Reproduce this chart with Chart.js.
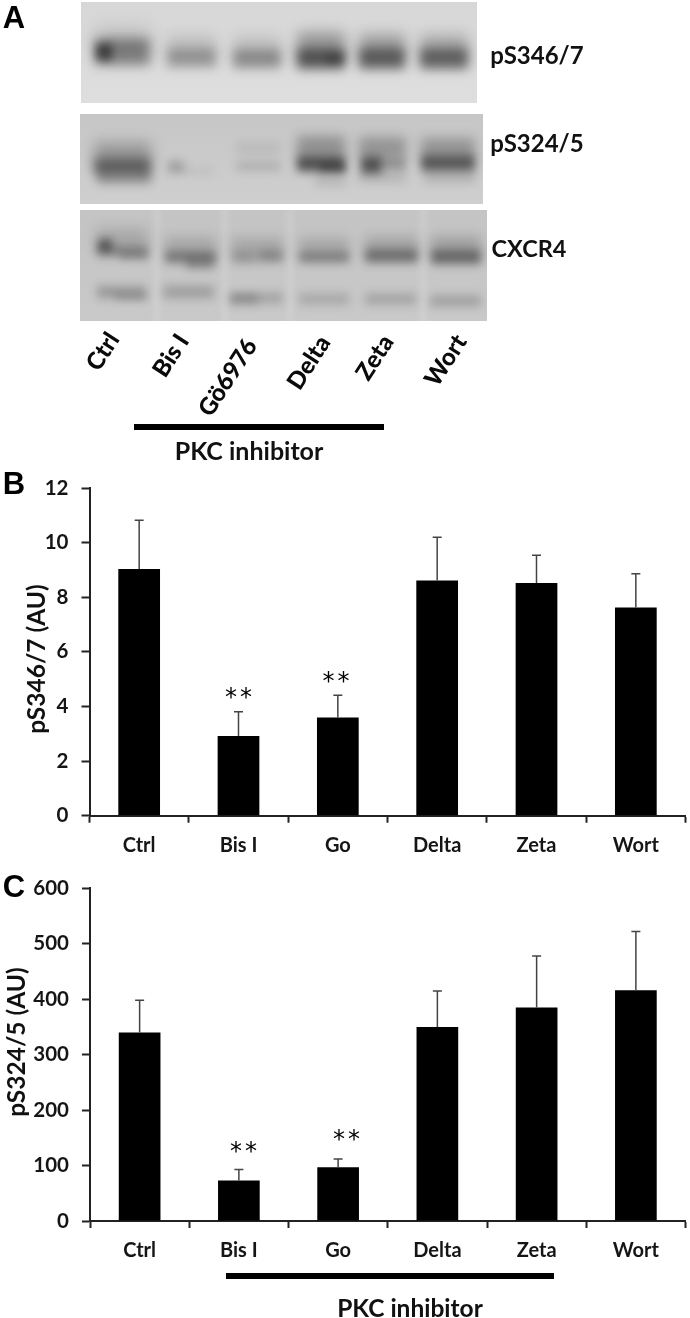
<!DOCTYPE html>
<html>
<head>
<meta charset="utf-8">
<script src="https://cdn.jsdelivr.net/npm/chart.js@4"></script>
<style>
html,body{margin:0;padding:0;background:#fff;width:690px;height:1318px;overflow:hidden}
canvas{position:absolute;left:0;display:block}
.t{position:absolute;font-family:Lato,sans-serif;font-weight:700;color:#111;white-space:nowrap;transform:translate(-50%,-50%);line-height:1}
.p{font-family:"Liberation Sans",sans-serif;font-size:31px;color:#000}
.r{font-weight:900;font-size:24px;color:#0a0a0a}
.b{position:absolute;background:#000}
</style>
</head>
<body>
<canvas id="gel" width="690" height="465" style="top:0"></canvas>
<canvas id="cB" width="690" height="400" style="top:460px"></canvas>
<canvas id="cC" width="690" height="458" style="top:860px"></canvas>
<script>
// ---- data ----
const categories = ['Ctrl','Bis I','Go','Delta','Zeta','Wort'];
const pS346Values = [9.03,2.92,3.6,8.61,8.52,7.62];
const pS346ErrorTops = [10.82,3.81,4.41,10.2,9.54,8.86];
const pS346Ticks = [0,2,4,6,8,10,12];
const pS324Values = [340,73,97,350,385,416];
const pS324ErrorTops = [398,93,112,415,478,522];
const pS324Ticks = [0,100,200,300,400,500,600];
const blotLanes = ['Ctrl','Bis I','Gö6976','Delta','Zeta','Wort'];

// ---- western blot panels (decorative image substitute) ----
// each band: x1, x2, y, height, darkness, blur
const blot1 = {box:[81,2,396,101], top:'#d7d7d7', bottom:'#dedede', streaks:[], bands:[
 [95,150,40,26,.12,9],[95,150,52,26,.40,6],[96,112,52,16,.50,4.5],
 [167,216,47,24,.12,7],[167,216,58,18,.28,5.5],
 [233,281,48,24,.12,7],[233,281,59,18,.32,5.5],
 [297,345,46,28,.30,7],[297,345,59,20,.54,5.5],[326,344,59,10,.18,3.5],
 [359,405,47,26,.28,7],[359,405,59,20,.50,5.5],
 [420,468,48,26,.24,7],[420,468,59,20,.48,5.5]]};
const blot2 = {box:[80,114,403,90], top:'#c6c6c6', bottom:'#cfcfcf', streaks:[], bands:[
 [94,151,152,20,.24,7],[94,151,166,16,.50,5.5],[97,151,177,14,.26,5],
 [168,184,167,12,.22,5],[185,214,171,8,.05,4],
 [236,280,148,12,.07,5],[236,280,166,10,.13,5],
 [297,345,148,24,.28,6],[297,345,164,15,.58,5],[320,346,168,10,.24,3.5],[315,346,180,12,.10,5],
 [359,406,148,22,.26,6],[361,382,165,17,.58,5],[382,406,164,12,.24,4],[359,406,177,12,.10,5],
 [421,475,148,20,.26,6],[421,475,163,16,.54,5],[424,475,177,12,.12,5]]};
const blot3 = {box:[80,210,407,111], top:'#c4c4c4', bottom:'#c9c9c9', streaks:[157,225,290,423], bands:[
 [96,148,238,18,.16,7],[98,112,245,12,.44,4],[97,148,251,11,.32,5],[120,148,256,9,.14,3.5],
 [165,216,245,18,.14,6],[165,216,257,12,.38,5],[186,214,264,11,.22,4.5],
 [231,283,245,16,.14,6],[232,256,257,12,.24,5],[258,283,256,12,.30,5],
 [299,349,245,16,.14,6],[299,349,257,11,.36,5],
 [365,418,245,18,.16,6],[365,418,256,13,.42,5],
 [431,481,245,18,.18,6],[431,481,257,14,.46,5],
 [97,146,292,12,.24,5],[115,147,297,8,.12,3.5],
 [163,214,292,13,.20,5],
 [230,283,298,11,.18,5],[230,258,299,10,.16,4],
 [299,349,299,11,.16,5],
 [365,416,299,11,.18,5],
 [430,481,301,11,.20,5]]};

const g = document.getElementById('gel').getContext('2d');
[blot1,blot2,blot3].forEach(function(b){
  const [x,y,w,h] = b.box;
  g.save();
  g.beginPath(); g.rect(x,y,w,h); g.clip();
  const bg = g.createLinearGradient(0,y,0,y+h);
  bg.addColorStop(0,b.top); bg.addColorStop(1,b.bottom);
  g.fillStyle = bg; g.fillRect(x,y,w,h);
  b.streaks.forEach(function(sx){
    g.filter='blur(3px)'; g.fillStyle='rgba(255,255,255,.16)';
    g.fillRect(sx-3,y-10,6,h+20);
  });
  b.bands.forEach(function(k){
    g.filter='blur('+k[5]+'px)';
    g.fillStyle='rgba(0,0,0,'+k[4]+')';
    g.fillRect(k[0],k[2]-k[3]/2,k[1]-k[0],k[3]);
  });
  g.restore();
});

// ---- overlay text ----
function addText(txt,x,y,size,cls,rot){
  const d=document.createElement('div');
  d.className='t '+(cls||'');
  d.textContent=txt;
  d.style.left=x+'px'; d.style.top=y+'px';
  if(size) d.style.fontSize=size+'px';
  if(rot) d.style.transform='translate(-50%,-50%) rotate('+rot+'deg)';
  document.body.appendChild(d);
}
function addBar(x1,x2,y1,y2){
  const d=document.createElement('div'); d.className='b';
  d.style.cssText='left:'+x1+'px;top:'+y1+'px;width:'+(x2-x1)+'px;height:'+(y2-y1)+'px';
  document.body.appendChild(d);
}
addText('A',14,17,0,'p');
addText('B',14,483,0,'p');
addText('C',14,886,0,'p');
addText('pS346/7',537,55,24);
addText('pS324/5',537,143,24);
addText('CXCR4',529,249,23.5);
const laneCenters=[[102,351],[170,355],[227,377],[308,362],[374,357],[445,360]];
blotLanes.forEach(function(l,i){addText(l,laneCenters[i][0],laneCenters[i][1],0,'r',-57);});
addBar(134,384,424,430);
addText('PKC inhibitor',249,450,25);
addBar(226,554,1273,1279);
addText('PKC inhibitor',410,1308,24.5);

// ---- charts ----
const font='Lato, sans-serif';
const xAxisBox=46;
function overlay(tops,title,titleX,titleY,stars){
  return {id:'overlay',afterDatasetsDraw(chart){
    const c=chart.ctx,xs=chart.scales.x,ys=chart.scales.y;
    c.save();
    c.strokeStyle='#444'; c.lineWidth=1.5;
    tops.forEach(function(t,i){
      const px=xs.getPixelForValue(i),py=ys.getPixelForValue(t),base=ys.getPixelForValue(chart.data.datasets[0].data[i]);
      c.beginPath();
      c.moveTo(px,base); c.lineTo(px,py);
      c.moveTo(px-4.5,py); c.lineTo(px+4.5,py);
      c.stroke();
    });
    c.fillStyle='#000'; c.textAlign='center'; c.textBaseline='middle';
    c.font='24px "DejaVu Sans"';
    c.letterSpacing='3px';
    stars.forEach(function(s){c.fillText('**',s[0],s[1]);});
    c.letterSpacing='0px';
    c.translate(titleX,titleY); c.rotate(-Math.PI/2);
    c.fillStyle='#111'; c.font='700 24.5px '+font;
    c.fillText(title,0,0);
    c.restore();
  }};
}
function barChart(id,values,tickVals,max,step,top,bottom,left,height,tops,title,tx,ty,stars){
  return new Chart(document.getElementById(id),{
    type:'bar',
    data:{labels:categories,datasets:[{data:values,backgroundColor:'#000',borderWidth:0,barPercentage:.42,categoryPercentage:1}]},
    plugins:[overlay(tops,title,tx,ty,stars)],
    options:{
      responsive:false,animation:false,
      layout:{padding:{top:top,right:4.5,bottom:height-bottom-xAxisBox,left:0}},
      plugins:{legend:{display:false},tooltip:{enabled:false}},
      scales:{
        x:{offset:true,
           grid:{offset:true,drawOnChartArea:false,drawTicks:true,tickLength:7,tickWidth:2,tickColor:'#222'},
           border:{color:'#222',width:2},
           ticks:{color:'#151515',padding:10.5,maxRotation:0,font:{family:font,weight:'700',size:20}},
           afterFit(s){s.height=xAxisBox;}},
        y:{min:0,max:max,
           grid:{drawOnChartArea:false,drawTicks:true,tickLength:8,tickWidth:2,tickColor:'#222'},
           border:{color:'#222',width:2},
           ticks:{color:'#151515',padding:13,stepSize:step,font:{family:font,weight:'700',size:20.5},
                  callback(v){return tickVals.includes(v)?String(v):'';}},
           afterFit(s){s.width=left;}}
      }
    }
  });
}
barChart('cB',pS346Values,pS346Ticks,12,2,28,355.7,89.5,400,pS346ErrorTops,'pS346/7 (AU)',37,199,[[240,238.5],[337.5,222.5]]);
barChart('cC',pS324Values,pS324Ticks,600,100,28.3,361,90,458,pS324ErrorTops,'pS324/5 (AU)',17,182,[[245,292.5],[348,280.5]]);
</script>
</body>
</html>
